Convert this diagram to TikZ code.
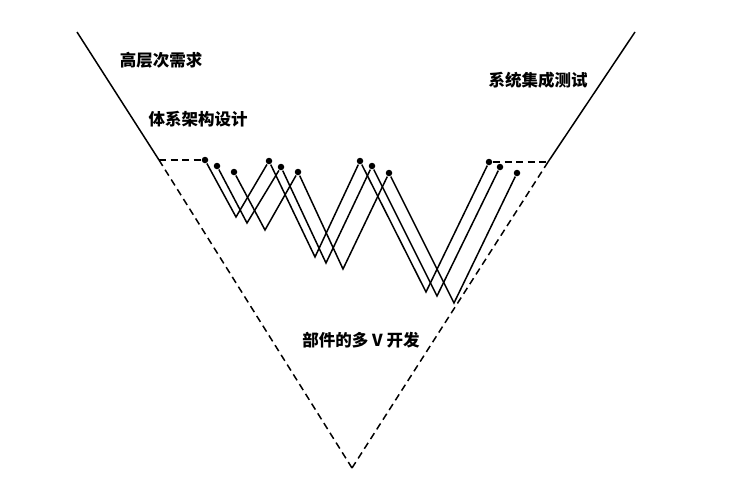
\documentclass[tikz,border=0pt]{standalone}
\usepackage{fontspec}
\newfontfamily\cjk{Noto Sans CJK SC}
\begin{document}
\begin{tikzpicture}
  [x=1pt,y=-1pt,line width=1.5pt,
   dot/.style={circle,fill,inner sep=0pt,minimum size=6.5pt},
   dashline/.style={dash pattern=on 7pt off 4.5pt},
   stage/.style={font=\cjk\bfseries\fontsize{16.5}{16.5}\selectfont,inner sep=0pt}]
  \useasboundingbox (0,0) rectangle (737,482);

  % outer V
  \coordinate (tl) at (77,32);
  \coordinate (tr) at (635,32);
  \coordinate (jl) at (159,160);
  \coordinate (jr) at (548,162);
  \coordinate (bot) at (352,468);

  % three component lines
  \node [dot] (a1) at (205,160) {};
  \coordinate (a2) at (236,217);
  \node [dot] (a3) at (269,161) {};
  \coordinate (a4) at (315,257);
  \node [dot] (a5) at (360,161) {};
  \coordinate (a6) at (426,292);
  \node [dot] (a7) at (489,162) {};

  \node [dot] (b1) at (217,166) {};
  \coordinate (b2) at (247,223);
  \node [dot] (b3) at (281,167) {};
  \coordinate (b4) at (326,263);
  \node [dot] (b5) at (372,166) {};
  \coordinate (b6) at (437,296);
  \node [dot] (b7) at (500,167) {};

  \node [dot] (c1) at (234,172) {};
  \coordinate (c2) at (265,230);
  \node [dot] (c3) at (298,172) {};
  \coordinate (c4) at (343,269);
  \node [dot] (c5) at (389,173) {};
  \coordinate (c6) at (454,303);
  \node [dot] (c7) at (517,173) {};

  \node [stage] (req) at (161,60) {高层次需求};
  \node [stage] (arch) at (198,119) {体系架构设计};
  \node [stage] (integ) at (538,80) {系统集成测试};
  \node [stage] (comp) at (361,340) {部件的多 V 开发};

  \draw (tl) -- (jl);
  \draw (tr) -- (jr);
  \foreach \from/\to in {jl/bot,jr/bot,jl/a1,a7/jr}
    \draw [dashline] (\from) -- (\to);

  \foreach \l in {a,b,c}
    \draw (\l1) -- (\l2) -- (\l3) -- (\l4) -- (\l5) -- (\l6) -- (\l7);

\end{tikzpicture}
\end{document}
